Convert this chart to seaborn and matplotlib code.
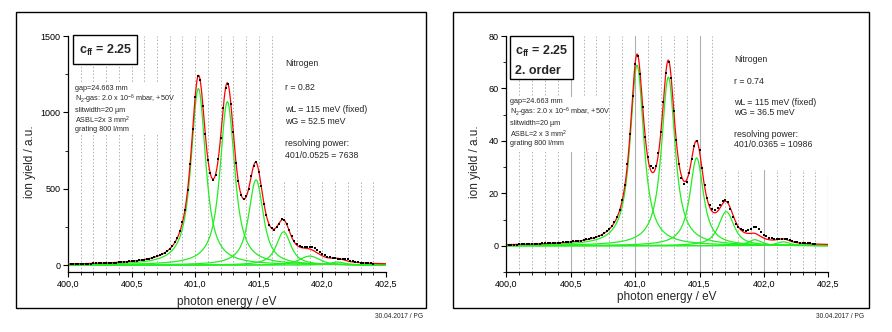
import numpy as np
import pandas as pd
import matplotlib
matplotlib.use("Agg")
import matplotlib.pyplot as plt
import seaborn as sns
from matplotlib.patches import Rectangle
from matplotlib.ticker import MultipleLocator, FuncFormatter

sns.set_style("white")
plt.rcParams['font.family'] = ['Liberation Sans', 'DejaVu Sans']
plt.rcParams['mathtext.fontset'] = 'custom'
plt.rcParams['mathtext.rm'] = 'Liberation Sans'
plt.rcParams['mathtext.it'] = 'Liberation Sans:italic'
plt.rcParams['mathtext.bf'] = 'Liberation Sans:bold'

# ---- measured data (photon energy grid 400.00 ... 402.40 eV, 0.02 eV step) ----
energy_start, energy_step, n_points = 400.0, 0.02, 121
p1_yield = [4, 5, 5, 6, 6, 7, 8, 8, 9, 10,
            11, 11, 12, 12, 13, 14, 15, 15, 16, 17,
            18, 19, 21, 22, 24, 25, 27, 29, 31, 33,
            36, 39, 43, 47, 52, 58, 64, 71, 81, 93,
            107, 124, 150, 178, 224, 283, 362, 495, 660, 890,
            1098, 1238, 1212, 1040, 858, 688, 600, 558, 590, 692,
            832, 1030, 1160, 1188, 1052, 870, 670, 548, 460, 430,
            450, 496, 585, 648, 675, 610, 518, 400, 328, 265,
            244, 232, 252, 272, 300, 298, 270, 228, 188, 160,
            138, 126, 120, 117, 118, 121, 120, 112, 100, 86,
            74, 64, 56, 50, 46, 44, 43, 42, 41, 40,
            37, 30, 24, 20, 18, 17, 16, 15, 14, 12,
            10]
p2_yield = [0.3, 0.3, 0.4, 0.4, 0.4, 0.5, 0.5, 0.5, 0.6, 0.6,
            0.7, 0.7, 0.8, 0.8, 0.9, 0.9, 1.0, 1.0, 1.1, 1.1,
            1.2, 1.2, 1.3, 1.4, 1.5, 1.6, 1.7, 1.8, 1.9, 2.0,
            2.2, 2.4, 2.6, 2.8, 3.1, 3.4, 3.8, 4.3, 4.9, 5.6,
            6.5, 7.5, 8.9, 11.0, 13.6, 17.5, 23.0, 31.2, 42.8, 57.0,
            69.5, 72.5, 65.6, 53.0, 41.5, 34.0, 30.3, 29.6, 30.6, 35.2,
            43.5, 55.0, 66.0, 70.2, 64.0, 51.5, 40.3, 31.0, 25.8, 23.4,
            24.3, 27.6, 33.0, 38.2, 40.0, 36.5, 29.8, 23.0, 18.2, 15.4,
            14.0, 13.7, 14.4, 15.6, 16.9, 17.6, 16.8, 14.0, 10.8, 8.4,
            7.0, 6.3, 5.9, 5.8, 6.0, 6.5, 7.0, 7.0, 6.3, 5.2,
            4.3, 3.6, 3.1, 2.8, 2.6, 2.5, 2.6, 2.7, 2.7, 2.5,
            2.1, 1.7, 1.4, 1.3, 1.2, 1.1, 1.0, 1.0, 0.9, 0.8,
            0.7]

# ---- fitted Voigt components (centre eV, height, Gaussian FWHM eV); Lorentz FWHM fixed ----
p1_centers = [401.025, 401.253, 401.478, 401.695, 401.900, 402.120]
p1_heights = [1156, 1070, 558, 218, 59, 20]
p1_wg = [0.0525, 0.0525, 0.0525, 0.0525, 0.12, 0.0525]
p2_centers = [401.015, 401.258, 401.478, 401.708, 401.930, 402.150]
p2_heights = [68.8, 64.3, 33.5, 13.0, 2.3, 1.5]
p2_wg = [0.0365, 0.0365, 0.0365, 0.06, 0.0365, 0.0365]
wl = 0.115

def voigt(x, c, fl, fg):
    t = np.linspace(-0.6, 0.6, 2401)
    sig = fg / 2.3548
    g = np.exp(-t**2 / (2 * sig**2))
    hl = fl / 2
    def prof(xx):
        return ((hl**2 / ((xx[:, None] - c - t[None, :])**2 + hl**2)) * g[None, :]).sum(1)
    return prof(np.asarray(x)) / prof(np.array([c]))[0]

grid = np.round(energy_start + energy_step * np.arange(n_points), 2)
xs = np.linspace(400.0, 402.5, 600)

W, H = 892, 332
def fx(px): return px / W
def fy(py): return 1 - py / H

fig = plt.figure(figsize=(8.92, 3.32), dpi=100)
for (x0, x1) in [(16, 426), (453, 869)]:
    fig.patches.append(Rectangle((fx(x0), fy(308)), (x1 - x0) / W, (308 - 12) / H,
                                 transform=fig.transFigure, fill=False, ec='black', lw=1.0, zorder=5))

green = '#22ee22'
panels = [
    dict(ax=[68, 318], data=p1_yield, cs=p1_centers, hs=p1_heights, wg=p1_wg, ylim=(-45, 1500),
         maj=500, mn=250, solid=False,
         white=[(0.016, 0.58, 0.311, 0.805), (0.673, 0.381, 1.0, 1.0)]),
    dict(ax=[506.3, 322], data=p2_yield, cs=p2_centers, hs=p2_heights, wg=p2_wg, ylim=(-10, 80),
         maj=20, mn=10, solid=True,
         white=[(0.011, 0.508, 0.309, 0.742), (0.664, 0.432, 1.0, 1.0)]),
]
for p in panels:
    ax = fig.add_axes([fx(p['ax'][0]), fy(272), p['ax'][1] / W, 236 / H])
    tot_x = np.zeros_like(xs)
    for c, h, w in zip(p['cs'], p['hs'], p['wg']):
        comp = h * voigt(xs, c, wl, w)
        tot_x += comp
        sns.lineplot(x=xs, y=comp, ax=ax, color=green, lw=0.9, zorder=2)
    sns.lineplot(x=xs, y=tot_x, ax=ax, color='#ff0000', lw=0.9, zorder=3)
    df = pd.DataFrame({'energy': grid, 'yield': p['data']})
    sns.scatterplot(data=df, x='energy', y='yield', ax=ax, color='black', marker='s', s=3,
                    linewidth=0, zorder=4)
    ax.set_xlim(400.0, 402.5)
    ax.set_ylim(*p['ylim'])
    for s in ['top', 'right']:
        ax.spines[s].set_visible(False)
    for s in ['left', 'bottom']:
        ax.spines[s].set_color('black')
        ax.spines[s].set_linewidth(0.9)
    ax.xaxis.set_major_locator(MultipleLocator(0.5))
    ax.xaxis.set_minor_locator(MultipleLocator(0.1))
    ax.yaxis.set_major_locator(MultipleLocator(p['maj']))
    ax.yaxis.set_minor_locator(MultipleLocator(p['mn']))
    ax.xaxis.set_major_formatter(FuncFormatter(lambda v, pos: f"{v:.1f}".replace('.', ',')))
    ax.yaxis.set_major_formatter(FuncFormatter(lambda v, pos: f"{v:.0f}"))
    ax.tick_params(axis='both', which='major', direction='out', length=3.5, width=0.8,
                   labelsize=6.5, pad=2, colors='black', bottom=True, left=True)
    ax.tick_params(axis='both', which='minor', direction='out', length=2.2, width=0.7,
                   bottom=True, left=True)
    ax.set_axisbelow(True)
    ax.grid(False)
    ax.grid(True, axis='x', which='minor', color='#b0b0b0', ls=(0, (1.5, 2)), lw=0.7)
    if p['solid']:
        ax.grid(True, axis='x', which='major', color='#b0b0b0', ls='-', lw=0.8)
    else:
        ax.grid(True, axis='x', which='major', color='#b0b0b0', ls=(0, (1.5, 2)), lw=0.7)
    ax.set_xlabel('')
    ax.set_ylabel('')
    for (a, b, c2, d) in p['white']:
        ax.add_patch(Rectangle((a, b), c2 - a, d - b, transform=ax.transAxes, fc='white',
                               ec='none', zorder=1))

for x, y in [(30, 162), (475, 162)]:
    fig.text(fx(x), fy(y), 'ion yield / a.u.', rotation=90, ha='center', va='center', fontsize=8.5)
for x, y in [(226.7, 302), (667, 297)]:
    fig.text(fx(x), fy(y), 'photon energy / eV', ha='center', va='center', fontsize=8.5)

for (x0, y0, x1, y1) in [(73, 35, 137, 64), (510, 36, 573, 79)]:
    fig.patches.append(Rectangle((fx(x0), fy(y1)), (x1 - x0) / W, (y1 - y0) / H,
                                 transform=fig.transFigure, fc='white', ec='black', lw=1.0, zorder=5))
fig.text(fx(79), fy(50.7), r'c$_{\mathbf{ff}}$ = 2.25', fontsize=9, fontweight='bold', va='center', zorder=6)
fig.text(fx(515), fy(51.7), r'c$_{\mathbf{ff}}$ = 2.25', fontsize=9, fontweight='bold', va='center', zorder=6)
fig.text(fx(515), fy(71), '2. order', fontsize=9, fontweight='bold', va='center', zorder=6)

left1 = ['gap=24.663 mm', r'N$_2$-gas: 2.0 x 10$^{-6}$ mbar, +50V', 'slitwidth=20 µm',
         r'ASBL=2x 3 mm$^2$', 'grating 800 l/mm']
left2 = ['gap=24.663 mm', r'N$_2$-gas: 2.0 x 10$^{-6}$ mbar, +50V', 'slitwidth=20 µm',
         r'ASBL=2 x 3 mm$^2$', 'grating 800 l/mm']
for t, y in zip(left1, [88.3, 99.3, 110.3, 120, 129.3]):
    fig.text(fx(75), fy(y), t, fontsize=5.2, va='center', zorder=6)
for t, y in zip(left2, [101.7, 112.7, 123.3, 134, 143.3]):
    fig.text(fx(510), fy(y), t, fontsize=5.2, va='center', zorder=6)
right1 = ['Nitrogen', 'r = 0.82', 'wL = 115 meV (fixed)', 'wG = 52.5 meV', 'resolving power:',
          '401/0.0525 = 7638']
right2 = ['Nitrogen', 'r = 0.74', 'wL = 115 meV (fixed)', 'wG = 36.5 meV', 'resolving power:',
          '401/0.0365 = 10986']
for t, y in zip(right1, [64, 87.3, 110, 121, 143.3, 155]):
    fig.text(fx(285), fy(y), t, fontsize=6.3, va='center', zorder=6)
for t, y in zip(right2, [60, 81, 102.3, 112.7, 134.3, 144]):
    fig.text(fx(734), fy(y), t, fontsize=6.3, va='center', zorder=6)

fig.text(fx(422.7), fy(316), '30.04.2017 / PG', fontsize=4.8, ha='right', va='center')
fig.text(fx(864.3), fy(316), '30.04.2017 / PG', fontsize=4.8, ha='right', va='center')

fig.savefig("out.png", dpi=100)
